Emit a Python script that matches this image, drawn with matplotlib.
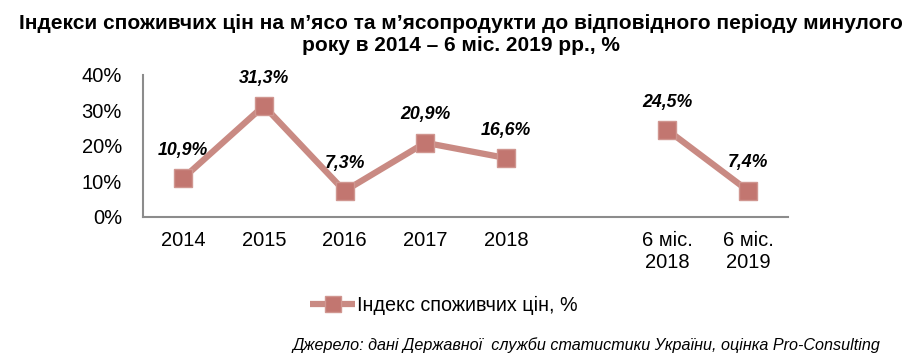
import matplotlib
matplotlib.use("Agg")
import matplotlib.pyplot as plt
import numpy as np
from matplotlib.ticker import FuncFormatter

# data
categories = ['2014', '2015', '2016', '2017', '2018', '', '6 міс.\n2018', '6 міс.\n2019']
values = [10.9, 31.3, 7.3, 20.9, 16.6, np.nan, 24.5, 7.4]
labels = ['10,9%', '31,3%', '7,3%', '20,9%', '16,6%', '', '24,5%', '7,4%']
yticks = [0, 10, 20, 30, 40]

line_col = '#c98a83'
marker_col = '#c27670'

plt.rcParams['font.family'] = ['Liberation Sans', 'DejaVu Sans']

fig = plt.figure(figsize=(9.21, 3.62), dpi=100)
ax = fig.add_axes([0.155, 0.4006, 0.701, 0.3925])

x = np.arange(len(categories))
ax.plot(x, values, color=line_col, lw=4.5, marker='s', ms=13,
        mfc=marker_col, mec='#d09690', mew=1, solid_capstyle='butt',
        label='Індекс споживчих цін, %')

for xi, v, lab in zip(x, values, labels):
    if lab:
        ax.annotate(lab, (xi, v), xytext=(0, 20), textcoords='offset points',
                    ha='center', va='center', fontsize=12.8,
                    fontweight='bold', fontstyle='italic')

ax.set_xlim(-0.5, len(categories) - 0.5)
ax.set_ylim(0, 40)
ax.set_yticks(yticks)
ax.yaxis.set_major_formatter(FuncFormatter(lambda v, p: '%d%%' % v))
ax.set_xticks(x)
ax.set_xticklabels(categories)
ax.tick_params(axis='both', length=0, labelsize=14.5)
ax.tick_params(axis='x', pad=10)
ax.tick_params(axis='y', pad=15)

for s in ['top', 'right']:
    ax.spines[s].set_visible(False)
for s in ['left', 'bottom']:
    ax.spines[s].set_color('#8c8c8c')
    ax.spines[s].set_linewidth(1.5)

fig.text(0.5, 0.905, 'Індекси споживчих цін на м\u2019ясо та м\u2019ясопродукти до відповідного періоду минулого\nроку в 2014 \u2013 6 міс. 2019 рр., %',
         ha='center', va='center', fontsize=15, fontweight='bold',
         linespacing=1.22)

leg = fig.legend(loc='center', bbox_to_anchor=(0.482, 0.157), frameon=False,
                 fontsize=14.2, handlelength=2.3, handletextpad=0.1,
                 markerscale=0.85)

fig.text(0.956, 0.048, 'Джерело: дані Державної  служби статистики України, оцінка Pro-Consulting',
         ha='right', va='center', fontsize=11.6, fontstyle='italic')

fig.savefig('out.png', dpi=100)
